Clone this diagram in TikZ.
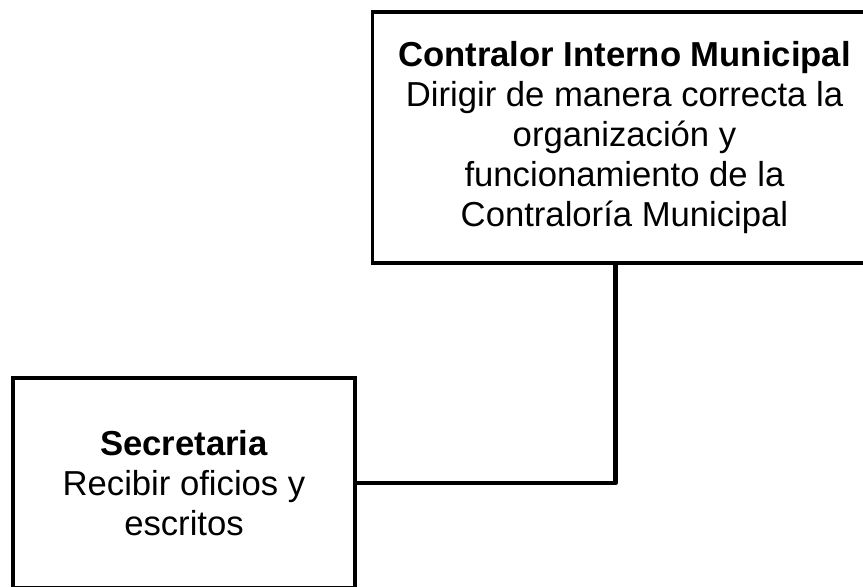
\documentclass[tikz,border=0pt]{standalone}
\usepackage{fontspec}
\setmainfont{Liberation Sans}
\usetikzlibrary{positioning}

\begin{document}
\begin{tikzpicture}[x=0.75pt,y=-0.75pt,
    unit box/.style={draw=black, line width=2.3pt, fill=white, align=center,
        inner sep=0pt, font=\fontsize{26}{30}\selectfont},
    unit link/.style={draw=black, line width=3.6pt, line join=round}]
    \path[use as bounding box] (0,0) rectangle (863,586);
    \clip (0,0) rectangle (863,586);

    \node[unit box, minimum width=378pt, minimum height=188.25pt] (contralor) at (624.5,137.5)
        {\textbf{Contralor Interno Municipal}\\ Dirigir de manera correcta la\\ organización y\\ funcionamiento de la\\ Contraloría Municipal};
    \node[unit box, minimum width=256.5pt, minimum height=157.5pt] (secretaria) at (184,483)
        {\textbf{Secretaria}\\ Recibir oficios y\\ escritos};

    \draw[unit link] ([xshift=-7pt]contralor.south) |- (secretaria.east);
\end{tikzpicture}
\end{document}
